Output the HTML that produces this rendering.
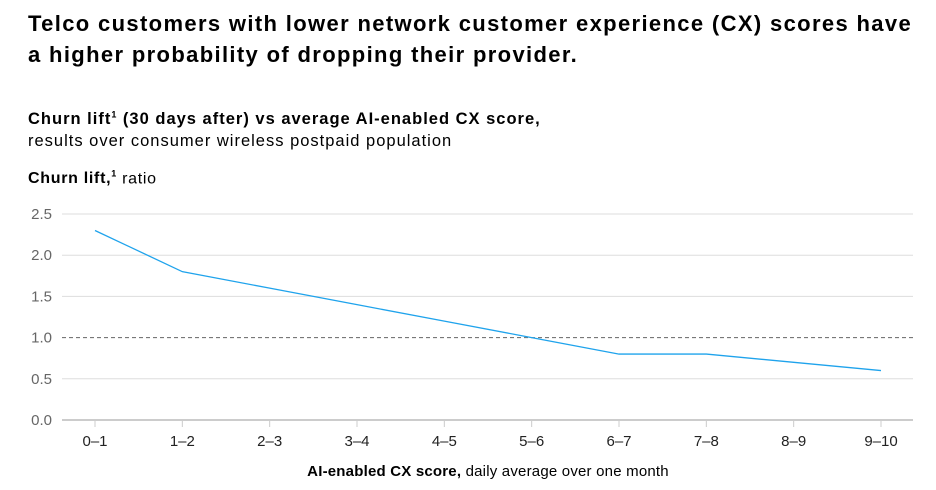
<!DOCTYPE html>
<html><head><meta charset="utf-8"><style>
body{margin:0;background:#fff;width:936px;height:490px;overflow:hidden;font-family:"Liberation Sans",sans-serif;color:#000}
.t{position:absolute;left:28px;top:8px;font-size:22px;font-weight:bold;line-height:31px;letter-spacing:1.35px;white-space:nowrap}
.s{position:absolute;left:28px;top:103px;font-size:16.5px;line-height:22px;letter-spacing:1px;white-space:nowrap}
.yt{position:absolute;left:28px;top:169px;font-size:16px;letter-spacing:0.7px}
svg{position:absolute;left:0;top:0}
</style></head><body>
<div class="t">Telco customers with lower network customer experience (CX) scores have<br>a higher probability of dropping their provider.</div>
<div class="s"><b>Churn lift<sup style="font-size:9px">1</sup> (30 days after) vs average AI-enabled CX score,</b><br>results over consumer wireless postpaid population</div>
<div class="yt"><b>Churn lift,<sup style="font-size:9px">1</sup></b> ratio</div>
<svg id="c" width="936" height="490"></svg>
<script>
const categories=["0–1","1–2","2–3","3–4","4–5","5–6","6–7","7–8","8–9","9–10"];
const values=[2.3,1.8,1.6,1.4,1.2,1.0,0.8,0.8,0.7,0.6];
const yTicks=[0,0.5,1.0,1.5,2.0,2.5];
const NS="http://www.w3.org/2000/svg",svg=document.getElementById('c');
const x=i=>95+i*(881-95)/9, y=v=>420-v*(420-214)/2.5;
function mk(t,a){const e=document.createElementNS(NS,t);for(const k in a)e.setAttribute(k,a[k]);svg.appendChild(e);return e;}
yTicks.forEach(v=>{
 const l=mk('line',{x1:62,x2:913,y1:y(v),y2:y(v),stroke:v===0?'#999':(v===1?'#666':'#ddd'),'stroke-width':1,'stroke-dasharray':v===1?'4,3':'none'});
 
 
 const t=mk('text',{x:52,y:y(v)+5,'text-anchor':'end','font-size':15,fill:'#666','font-family':'Liberation Sans, sans-serif'});
 t.textContent=v.toFixed(1);
 
 
});
categories.forEach((c,i)=>{
 const tk=mk('line',{x1:x(i),x2:x(i),y1:420,y2:427,stroke:'#ccc'});
 
 
 const t=mk('text',{x:x(i),y:446,'text-anchor':'middle','font-size':15,fill:'#222','font-family':'Liberation Sans, sans-serif'});
 t.textContent=c;
 
 
});
const p=mk('polyline',{points:values.map((v,i)=>x(i)+','+y(v)).join(' '),fill:'none',stroke:'#1fa3ec','stroke-width':1.3});


const xt=mk('text',{x:488,y:476,'text-anchor':'middle','font-size':15,fill:'#000','font-family':'Liberation Sans, sans-serif','letter-spacing':0.2});
xt.innerHTML='<tspan font-weight="bold">AI-enabled CX score,</tspan> daily average over one month';


</script>
</body></html>
